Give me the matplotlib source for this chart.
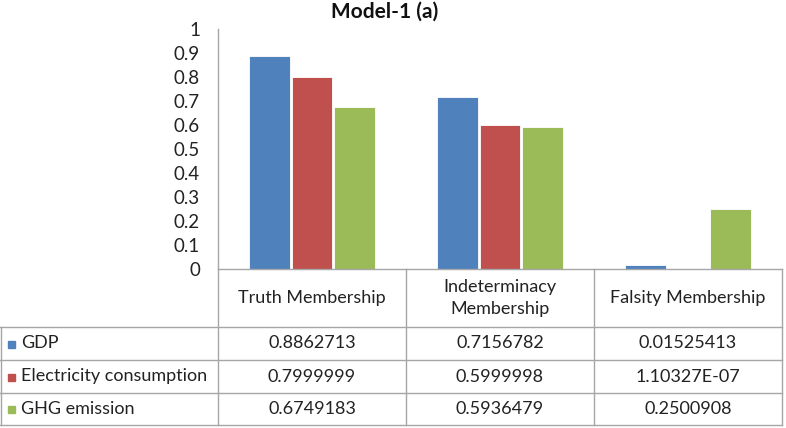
import matplotlib
matplotlib.use("Agg")
import matplotlib.pyplot as plt
from matplotlib.patches import Rectangle
from matplotlib.lines import Line2D

categories = ["Truth Membership", "Indeterminacy\nMembership", "Falsity Membership"]
series_names = ["GDP", "Electricity consumption", "GHG emission"]
gdp = [0.8862713, 0.7156782, 0.01525413]
elec = [0.7999999, 0.5999998, 1.10327E-07]
ghg = [0.6749183, 0.5936479, 0.2500908]
table_text = [
    ["0.8862713", "0.7156782", "0.01525413"],
    ["0.7999999", "0.5999998", "1.10327E-07"],
    ["0.6749183", "0.5936479", "0.2500908"],
]
yticks = [0, 0.1, 0.2, 0.3, 0.4, 0.5, 0.6, 0.7, 0.8, 0.9, 1]
ytick_labels = ["0", "0.1", "0.2", "0.3", "0.4", "0.5", "0.6", "0.7", "0.8", "0.9", "1"]
colors = ["#4F81BD", "#C0504D", "#9BBB59"]
title = "Model-1 (a)"

plt.rcParams['font.family'] = ['Lato', 'DejaVu Sans']

W, H = 786, 428
fig = plt.figure(figsize=(W / 100, H / 100), dpi=100)

x0, x1 = 218, 782
y_top, y_zero = 29, 269

def fx(px):
    return px / W

def fy(py):
    return 1 - py / H

ax = fig.add_axes([fx(x0), fy(y_zero), (x1 - x0) / W, (y_zero - y_top) / H])
ax.set_xlim(-0.5, 2.5)
ax.set_ylim(0, 1)
series = [gdp, elec, ghg]
bw = 0.215
for i, (vals, c) in enumerate(zip(series, colors)):
    xs = [k + (i - 1) * (bw + 0.01) for k in range(len(categories))]
    ax.bar(xs, vals, width=bw, color=c, edgecolor="white", linewidth=0.6, zorder=3)

ax.set_yticks(yticks)
ax.set_yticklabels(ytick_labels, fontsize=13.5, color="#222222")
ax.tick_params(axis="y", length=0, pad=13)
ax.set_xticks([])
for s in ["top", "right", "bottom"]:
    ax.spines[s].set_visible(False)
ax.spines["left"].set_color("#A6A6A6")
ax.spines["left"].set_linewidth(1.0)
ax.patch.set_alpha(0)

fig.text(fx(385), fy(12), title, ha="center", va="center", fontsize=15, fontweight="bold", color="#111111")

grid_c = "#A6A6A6"
col_lines = [218, 406, 594, 782]
row_lines = [269, 327, 360, 393, 425]

def hline(y, xa, xb):
    fig.add_artist(Line2D([fx(xa), fx(xb)], [fy(y), fy(y)], color=grid_c, lw=1.0))

def vline(x, ya, yb):
    fig.add_artist(Line2D([fx(x), fx(x)], [fy(ya), fy(yb)], color=grid_c, lw=1.0))

hline(269, 218, 782)
for y in row_lines[1:]:
    hline(y, 0, 782)
for x in col_lines:
    vline(x, 269, 425)
vline(1, 327, 425)

for j, cat in enumerate(categories):
    cx = (col_lines[j] + col_lines[j + 1]) / 2
    cy = (row_lines[0] + row_lines[1]) / 2
    fig.text(fx(cx), fy(cy), cat, ha="center", va="center", fontsize=13,
             color="#222222", linespacing=1.45)

for i, name in enumerate(series_names):
    cy = (row_lines[i + 1] + row_lines[i + 2]) / 2
    fig.add_artist(Rectangle((fx(8), fy(cy + 4)), 7 / W, 7 / H, color=colors[i],
                             transform=fig.transFigure))
    fig.text(fx(21), fy(cy), name, ha="left", va="center", fontsize=13, color="#222222")
    for j in range(3):
        cx = (col_lines[j] + col_lines[j + 1]) / 2
        fig.text(fx(cx), fy(cy), table_text[i][j], ha="center", va="center",
                 fontsize=13, color="#222222")

fig.savefig("out.png", dpi=100)
